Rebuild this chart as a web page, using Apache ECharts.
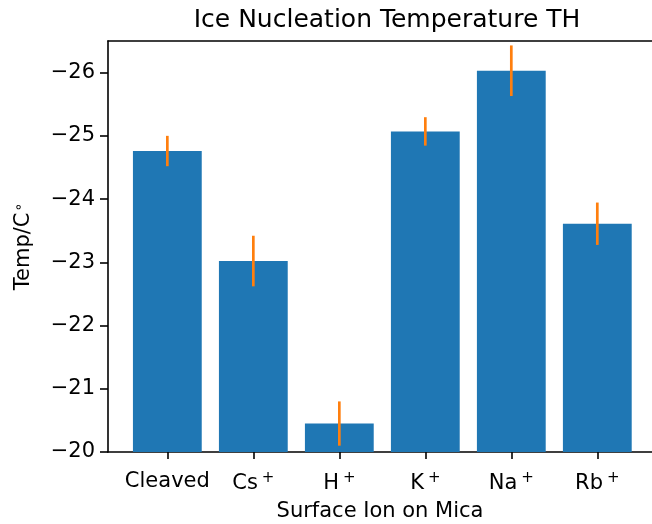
<!DOCTYPE html>
<html>
<head>
<meta charset="utf-8">
<script src="https://cdn.jsdelivr.net/npm/echarts@6/dist/echarts.min.js"></script>
<style>html,body{margin:0;padding:0;background:#fff}#c{width:652px;height:524px}</style>
</head>
<body>
<div id="c"></div>
<script>
const categories = ['Cleaved', 'Cs', 'H', 'K', 'Na', 'Rb'];
const superscripts = ['', '+', '+', '+', '+', '+'];
const temps = [-24.76, -23.02, -20.45, -25.07, -26.03, -23.61];
const errors = [0.24, 0.40, 0.35, 0.225, 0.40, 0.335];
const yTicks = [-26, -25, -24, -23, -22, -21, -20];
const xTicks = [0, 1, 2, 3, 4, 5];

const font = 'DejaVu Sans';
const chart = echarts.init(document.getElementById('c'), null, {renderer: 'canvas'});

const barData = temps.map((v, i) => [i, v]);
const errData = temps.map((v, i) => [i, v, errors[i]]);

chart.setOption({
  animation: false,
  backgroundColor: '#fff',
  title: {
    text: 'Ice Nucleation Temperature TH',
    left: 382, top: 3, textAlign: 'center',
    textStyle: {fontFamily: font, fontSize: 25, fontWeight: 'normal', color: '#000'}
  },
  grid: {left: 108, top: 41, right: 0, height: 411, show: false, containLabel: false, outerBoundsMode: 'none'},
  xAxis: [{
    type: 'value', min: -0.69, max: 5.636, position: 'bottom',
    name: 'Surface Ion on Mica', nameLocation: 'middle', nameGap: 49,
    nameTextStyle: {fontFamily: font, fontSize: 21, color: '#000'},
    axisLine: {show: true, onZero: false, lineStyle: {color: '#000', width: 1.6}},
    axisTick: {show: true, customValues: xTicks, length: 7, lineStyle: {color: '#000', width: 1.6}},
    axisLabel: {
      customValues: xTicks, margin: 19, color: '#000', fontFamily: font, fontSize: 21,
      formatter: v => {
        const i = Math.round(v);
        return superscripts[i] ? '{b|' + categories[i] + '}{s|' + superscripts[i] + '}' : '{b|' + categories[i] + '}';
      },
      rich: {
        b: {fontFamily: font, fontSize: 21, color: '#000'},
        s: {fontFamily: font, fontSize: 15, color: '#000', verticalAlign: 'top', padding: [0, 0, 10, 4]}
      }
    },
    splitLine: {show: false}
  }, {
    type: 'value', min: -0.69, max: 5.636, position: 'top',
    axisLine: {show: true, onZero: false, lineStyle: {color: '#000', width: 1.6}},
    axisTick: {show: false}, axisLabel: {show: false}, splitLine: {show: false}
  }],
  yAxis: {
    type: 'value', inverse: true, min: -26.5, max: -20,
    name: '{b|Temp/C}{s|∘}', nameLocation: 'middle', nameGap: 72, nameRotate: 90,
    nameTextStyle: {
      fontFamily: font, fontSize: 21, color: '#000',
      rich: {
        b: {fontFamily: font, fontSize: 21, color: '#000'},
        s: {fontFamily: font, fontSize: 14, color: '#000', verticalAlign: 'top', padding: [0, 0, 10, 1]}
      }
    },
    axisLine: {show: true, onZero: false, lineStyle: {color: '#000', width: 1.6}},
    axisTick: {show: true, customValues: yTicks, length: 8, lineStyle: {color: '#000', width: 1.6}},
    axisLabel: {
      customValues: yTicks, margin: 13, color: '#000', fontFamily: font, fontSize: 21,
      formatter: v => (v < 0 ? '\u2212' : '') + Math.abs(v)
    },
    splitLine: {show: false}
  },
  series: [
    {
      type: 'bar', data: barData, barWidth: 68.8, xAxisIndex: 0,
      itemStyle: {color: '#1f77b4'}, clip: true, z: 2
    },
    {
      type: 'custom', data: errData, z: 3, clip: false, xAxisIndex: 0,
      renderItem: (params, api) => {
        const x = api.value(0), v = api.value(1), e = api.value(2);
        const p1 = api.coord([x, v - e]);
        const p2 = api.coord([x, v + e]);
        return {
          type: 'line',
          shape: {x1: p1[0], y1: p1[1], x2: p2[0], y2: p2[1]},
          style: {stroke: '#ff7f0e', lineWidth: 2.7}
        };
      }
    }
  ]
});
</script>
</body>
</html>
